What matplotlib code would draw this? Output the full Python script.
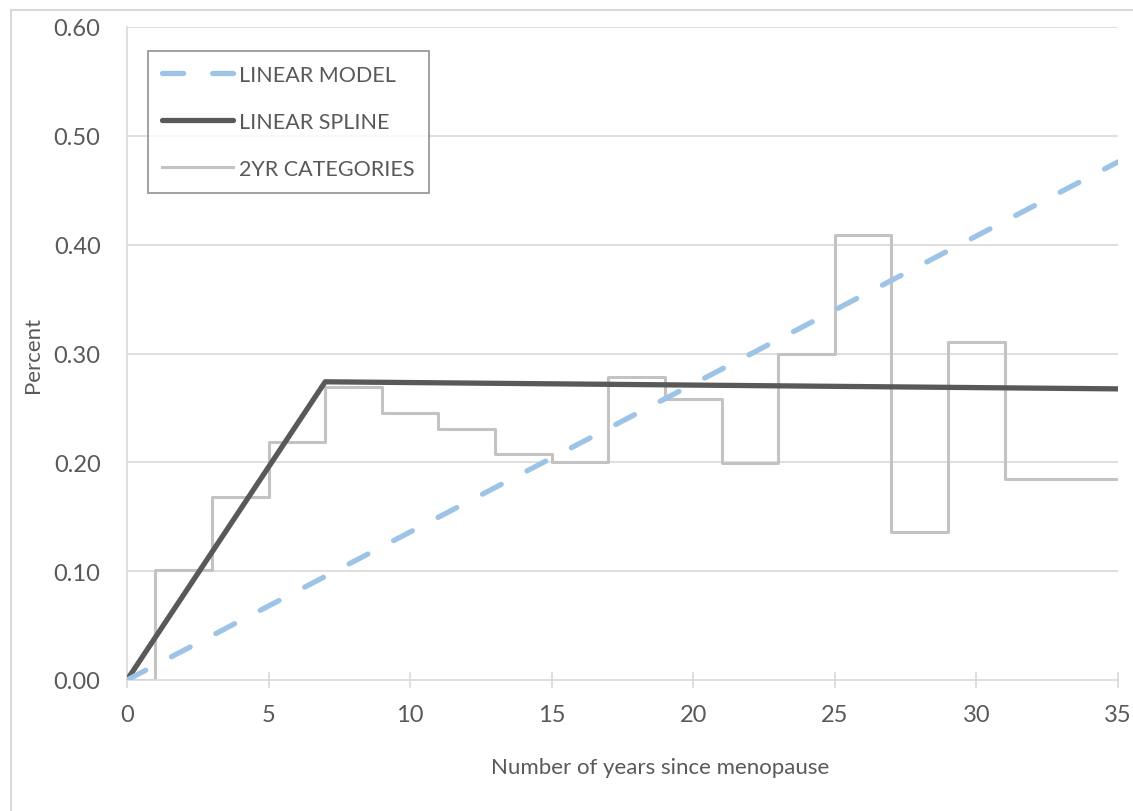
import matplotlib
matplotlib.use("Agg")
import matplotlib.pyplot as plt
from matplotlib.lines import Line2D

plt.rcParams['font.family'] = ['Lato', 'DejaVu Sans']

# Data
cat_edges = [0, 1, 3, 5, 7, 9, 11, 13, 15, 17, 19, 21, 23, 25, 27, 29, 31, 35]
cat_values = [0.0, 0.101, 0.168, 0.219, 0.269, 0.245, 0.231, 0.208, 0.200,
              0.278, 0.258, 0.199, 0.300, 0.409, 0.136, 0.311, 0.185]
spline_x = [0, 7, 35]
spline_y = [0.0, 0.274, 0.2675]
linear_x = [0, 35]
linear_y = [0.0, 0.476]

x_ticks = [0, 5, 10, 15, 20, 25, 30, 35]
y_ticks = [0.0, 0.1, 0.2, 0.3, 0.4, 0.5, 0.6]

W, H = 1133, 812
fig = plt.figure(figsize=(W / 100, H / 100), dpi=100)
ax = fig.add_axes([127 / W, 1 - 681 / H, (1118 - 127) / W, (681 - 28) / H])

grid_c = '#D9D9D9'
text_c = '#595959'

# outer chart border
fig.add_artist(Line2D([11 / W, 11 / W], [0, 1 - 11 / H], transform=fig.transFigure,
                      color=grid_c, lw=1.5))
fig.add_artist(Line2D([11 / W, 1], [1 - 11 / H, 1 - 11 / H], transform=fig.transFigure,
                      color=grid_c, lw=1.5))

for yv in y_ticks[1:]:
    ax.axhline(yv, color=grid_c, lw=1.2, zorder=0)

step_y = cat_values + [cat_values[-1]]
ax.step(cat_edges, step_y, where='post', color='#C3C3C3', lw=2.2, zorder=2,
        label='2YR CATEGORIES')
ax.plot(spline_x, spline_y, color='#595959', lw=3.8, solid_capstyle='round',
        zorder=3, label='LINEAR SPLINE')
ax.plot(linear_x, linear_y, color='#9DC3E6', lw=3.8, dashes=(4, 5.5),
        dash_capstyle='round', zorder=4, label='LINEAR MODEL')

ax.set_xlim(0, 35)
ax.set_ylim(0, 0.6)
ax.set_xticks(x_ticks)
ax.set_yticks(y_ticks)
ax.set_yticklabels([f'{v:.2f}' for v in y_ticks])
ax.tick_params(axis='y', length=0, pad=19, labelsize=17, labelcolor=text_c)
ax.tick_params(axis='x', direction='inout', length=11, color=grid_c, width=1.2,
               pad=12, labelsize=17, labelcolor=text_c)

for s in ['top', 'right']:
    ax.spines[s].set_visible(False)
ax.spines['left'].set_color(grid_c)
ax.spines['bottom'].set_color(grid_c)
ax.spines['left'].set_linewidth(1.2)
ax.spines['bottom'].set_linewidth(1.2)

fig.text(660 / W, 1 - 768 / H, 'Number of years since menopause', fontsize=16,
         color=text_c, ha='center', va='center')
fig.text(33 / W, 1 - 355 / H, 'Percent', rotation=90, fontsize=16, color=text_c,
         ha='center', va='center')

handles, labels = ax.get_legend_handles_labels()
order = [2, 1, 0]
leg = ax.legend([handles[i] for i in order], [labels[i] for i in order],
                loc='upper left', bbox_to_anchor=(21 / 991, (681 - 52) / 653),
                borderaxespad=0, fontsize=15.5, handlelength=3.3, handletextpad=0.3,
                labelspacing=1.25, frameon=True, fancybox=False, borderpad=0.65,
                labelcolor=text_c)
leg.get_frame().set_edgecolor('#808080')
leg.get_frame().set_linewidth(1.3)

fig.savefig('out.png', dpi=100, facecolor='white')
